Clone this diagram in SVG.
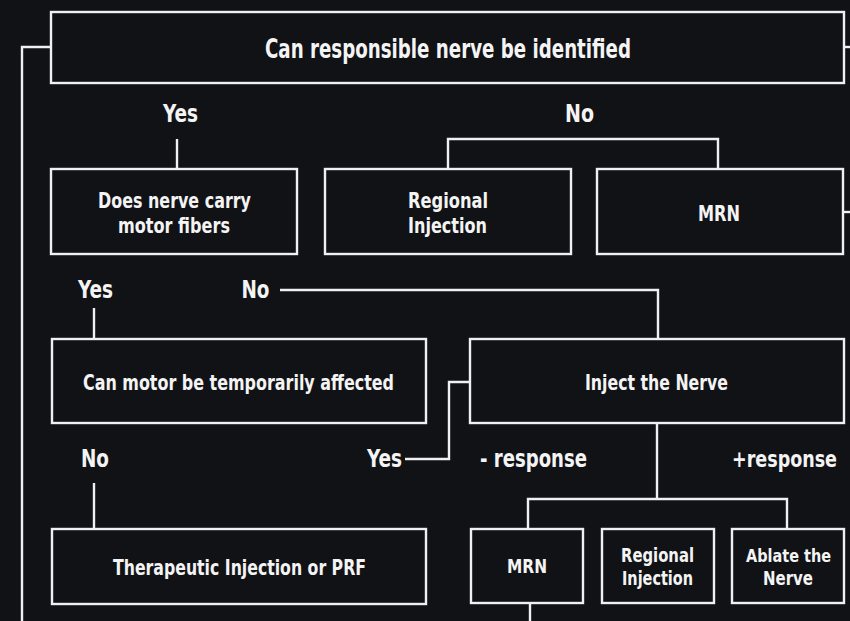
<svg xmlns="http://www.w3.org/2000/svg" width="850" height="621" viewBox="0 0 850 621">
<style>
.bg{fill:#111216}
.box{fill:#111216;stroke:#f0f0f0;stroke-width:2.4}
.ln{fill:none;stroke:#f0f0f0;stroke-width:2.4}
text{font-family:"Liberation Sans Narrow","DejaVu Sans Condensed","Liberation Sans",sans-serif;font-weight:bold;fill:#f4f4f4;text-anchor:middle}
.t{font-size:26px}
.l{font-size:25px}
.n{font-size:22px}
.s{font-size:20px}
</style>
<rect class="bg" x="0" y="0" width="850" height="621"/>
<g id="connectors">
<path class="ln" d="M51 47 H22 V621"/>
<path class="ln" d="M844 47 H850"/>
<path class="ln" d="M843 212 H850"/>
<path class="ln" d="M177 139 V169"/>
<path class="ln" d="M448 169 V139 H718 V169"/>
<path class="ln" d="M280 290 H658 V339"/>
<path class="ln" d="M94 308 V339"/>
<path class="ln" d="M470 382 H449 V459 H405"/>
<path class="ln" d="M94 483 V529"/>
<path class="ln" d="M657 423 V499"/>
<path class="ln" d="M528 529 V499 H787 V529"/>
<path class="ln" d="M530 603 V621"/>
</g>
<g id="labels">
<text class="l" x="180.5" y="122" textLength="35" lengthAdjust="spacingAndGlyphs">Yes</text>
<text class="l" x="579.5" y="122" textLength="29" lengthAdjust="spacingAndGlyphs">No</text>
<text class="l" x="95.5" y="298" textLength="35" lengthAdjust="spacingAndGlyphs">Yes</text>
<text class="l" x="255.5" y="298" textLength="28" lengthAdjust="spacingAndGlyphs">No</text>
<text class="l" x="95" y="467" textLength="28" lengthAdjust="spacingAndGlyphs">No</text>
<text class="l" x="384.5" y="467" textLength="35" lengthAdjust="spacingAndGlyphs">Yes</text>
<text class="l" x="533.5" y="467" textLength="107" lengthAdjust="spacingAndGlyphs">- response</text>
<text class="l" x="784.5" y="467" style="font-size:23px" textLength="105" lengthAdjust="spacingAndGlyphs">+response</text>
</g>
<g id="n-identify">
<rect class="box" x="51" y="12" width="793" height="71"/>
<text class="t" x="448" y="58" textLength="366" lengthAdjust="spacingAndGlyphs">Can responsible nerve be identified</text>
</g>
<g id="n-motor-fibers">
<rect class="box" x="51" y="169" width="246" height="85"/>
<text class="n" x="174.5" y="208" textLength="153" lengthAdjust="spacingAndGlyphs">Does nerve carry</text>
<text class="n" x="174" y="233" textLength="112" lengthAdjust="spacingAndGlyphs">motor fibers</text>
</g>
<g id="n-regional-1">
<rect class="box" x="325" y="169" width="246" height="85"/>
<text class="n" x="448" y="208" textLength="80" lengthAdjust="spacingAndGlyphs">Regional</text>
<text class="n" x="447.5" y="233" textLength="79" lengthAdjust="spacingAndGlyphs">Injection</text>
</g>
<g id="n-mrn-1">
<rect class="box" x="597" y="169" width="246" height="85"/>
<text class="n" x="719" y="221" textLength="42" lengthAdjust="spacingAndGlyphs">MRN</text>
</g>
<g id="n-temp">
<rect class="box" x="52" y="339" width="374" height="84"/>
<text class="n" x="238.5" y="390" textLength="311" lengthAdjust="spacingAndGlyphs">Can motor be temporarily affected</text>
</g>
<g id="n-inject">
<rect class="box" x="470" y="339" width="374" height="84"/>
<text class="n" x="656.5" y="390" textLength="143" lengthAdjust="spacingAndGlyphs">Inject the Nerve</text>
</g>
<g id="n-therapeutic">
<rect class="box" x="52" y="529" width="374" height="75"/>
<text class="n" x="239.5" y="575" textLength="253" lengthAdjust="spacingAndGlyphs">Therapeutic Injection or PRF</text>
</g>
<g id="n-mrn-2">
<rect class="box" x="471" y="529" width="112" height="74"/>
<text class="s" x="527" y="573" textLength="40" lengthAdjust="spacingAndGlyphs">MRN</text>
</g>
<g id="n-regional-2">
<rect class="box" x="602" y="529" width="112" height="74"/>
<text class="s" x="657.5" y="562" textLength="73" lengthAdjust="spacingAndGlyphs">Regional</text>
<text class="s" x="657.5" y="585" textLength="71" lengthAdjust="spacingAndGlyphs">Injection</text>
</g>
<g id="n-ablate">
<rect class="box" x="732" y="529" width="112" height="74"/>
<text class="s" x="788.5" y="562" style="font-size:18px" textLength="85" lengthAdjust="spacingAndGlyphs">Ablate the</text>
<text class="s" x="788" y="585" textLength="50" lengthAdjust="spacingAndGlyphs">Nerve</text>
</g>
</svg>
